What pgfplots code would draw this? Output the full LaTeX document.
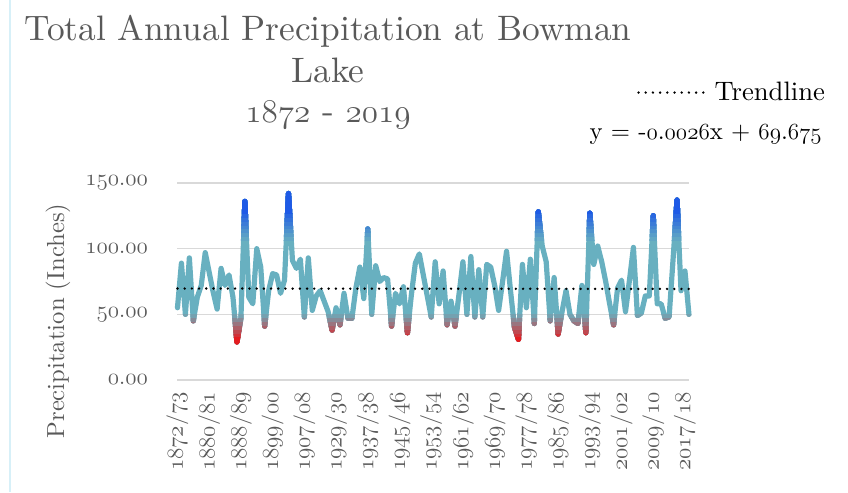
\documentclass[border=0pt]{standalone}
\usepackage{fontspec}
\setmainfont{lmroman10-regular.otf}
\usepackage{pgfplots}
\usepackage{pgfplotstable}
\pgfplotsset{compat=1.18}
\definecolor{teal0}{RGB}{104,176,192}
\definecolor{blueT}{RGB}{30,90,230}
\definecolor{redB}{RGB}{228,28,32}
\definecolor{txtgray}{RGB}{89,89,89}
\definecolor{gridgray}{RGB}{217,217,217}
\definecolor{edgecyan}{RGB}{215,240,248}
\newcommand{\os}[1]{{\usefont{OML}{lmm}{m}{it}#1}}

\pgfplotstableread{
x y
0 55
1 89
2 50
3 93
4 45
5 63
6 72
7 97
8 82
9 67
10 54
11 85
12 72
13 80
14 63
15 29
16 47
17 136
18 63
19 58
20 100
21 86
22 41
23 68
24 81
25 80
26 66
27 76
28 142
29 91
30 85
31 92
32 48
33 93
34 53
35 64
36 68
37 60
38 52
39 38
40 55
41 42
42 66
43 47
44 47
45 70
46 86
47 62
48 115
49 50
50 87
51 75
52 78
53 77
54 41
55 66
56 58
57 71
58 36
59 65
60 89
61 96
62 80
63 64
64 48
65 90
66 58
67 83
68 42
69 60
70 41
71 65
72 90
73 50
74 94
75 48
76 84
77 48
78 88
79 86
80 72
81 53
82 75
83 98
84 68
85 40
86 31
87 88
88 55
89 92
90 43
91 128
92 102
93 90
94 45
95 78
96 35
97 52
98 68
99 50
100 45
101 43
102 72
103 36
104 127
105 88
106 102
107 90
108 75
109 58
110 42
111 70
112 76
113 52
114 76
115 101
116 49
117 51
118 64
119 64
120 125
121 58
122 58
123 47
124 48
125 92
126 137
127 68
128 83
129 50
}\precip

\pgfplotstableread{
x y
0 69.672
129 69.337
}\trend

\newcommand{\band}[3]{%
\begin{scope}
\clip (axis cs:-5,#1) rectangle (axis cs:135,#2);
\addplot[forget plot, line width=3.9pt, line join=round, line cap=round, color=#3] table[x=x,y=y] {\precip};
\end{scope}}

\begin{document}
\begin{tikzpicture}
\path[use as bounding box] (-133.1pt,-84pt) rectangle (502.9pt,285pt);
\draw[edgecyan, line width=1.5pt] (-125.6pt,-84pt) -- (-125.6pt,285pt);
\begin{axis}[
  at={(0pt,0pt)}, anchor=south west,
  scale only axis, width=383.6pt, height=147.75pt,
  xmin=0, xmax=129, ymin=0, ymax=150,
  enlargelimits=false, clip=false,
  axis line style={draw=none}, tick style={draw=none},
  ytick={0,50,100,150},
  yticklabels={{\os{0}.\os{00}},{\os{50}.\os{00}},{\os{100}.\os{00}},{\os{150}.\os{00}}},
  ymajorgrids, grid style={gridgray, line width=1pt},
  xtick={0,8,...,128},
  xticklabels={{\os{1872}/\os{73}},{\os{1880}/\os{81}},{\os{1888}/\os{89}},{\os{1899}/\os{00}},{\os{1907}/\os{08}},{\os{1929}/\os{30}},{\os{1937}/\os{38}},{\os{1945}/\os{46}},{\os{1953}/\os{54}},{\os{1961}/\os{62}},{\os{1969}/\os{70}},{\os{1977}/\os{78}},{\os{1985}/\os{86}},{\os{1993}/\os{94}},{\os{2001}/\os{02}},{\os{2009}/\os{10}},{\os{2017}/\os{18}}},
  xticklabel style={rotate=90, anchor=east, inner sep=0pt, font=\fontsize{16.5}{20}\selectfont, text=txtgray},
  xticklabel shift=9pt,
  yticklabel style={anchor=east, inner sep=0pt, xshift=-22pt, font=\fontsize{16.5}{20}\selectfont, text=txtgray},
  legend style={at={(1.266,1.459)}, anchor=east, draw=none, fill=none, inner sep=0pt, outer sep=0pt,
    font=\fontsize{20}{24}\selectfont, nodes={inner sep=0pt},
    /tikz/every odd column/.style={column sep=5pt}},
  legend cell align=left,
  legend image code/.code={\draw[#1] (0pt,0pt) -- (51pt,0pt);},
]
\addplot[forget plot, line width=3.9pt, line join=round, line cap=round, color=teal0] table[x=x,y=y] {\precip};
\band{106}{200}{blueT!10!teal0}
\band{109}{200}{blueT!22!teal0}
\band{112}{200}{blueT!35!teal0}
\band{115}{200}{blueT!48!teal0}
\band{118}{200}{blueT!60!teal0}
\band{121}{200}{blueT!72!teal0}
\band{124}{200}{blueT!85!teal0}
\band{127}{200}{blueT}
\band{-50}{50}{redB!10!teal0}
\band{-50}{47}{redB!25!teal0}
\band{-50}{44}{redB!40!teal0}
\band{-50}{41}{redB!55!teal0}
\band{-50}{38}{redB!70!teal0}
\band{-50}{35}{redB!85!teal0}
\band{-50}{32}{redB}
\addplot[black, line width=2pt, line cap=round, dash pattern=on 0pt off 5.4pt] table[x=x,y=y] {\trend};
\addlegendentry{Trendline}
\end{axis}
\node[anchor=base, text=txtgray, font=\fontsize{26.5}{32}\selectfont] at (112.9pt,254.6pt) {Total Annual Precipitation at Bowman};
\node[anchor=base, text=txtgray, font=\fontsize{26.5}{32}\selectfont] at (112.9pt,223.4pt) {Lake};
\node[anchor=base, text=txtgray, font=\fontsize{26.5}{32}\selectfont] at (112.9pt,193.2pt) {\os{1872} - \os{2019}};
\node[anchor=base east, text=black, font=\fontsize{18.5}{22}\selectfont, inner sep=0pt] at (483.4pt,180.4pt) {y = -\os{0}.\os{0026}x + \os{69}.\os{675}};
\node[rotate=90, anchor=center, text=txtgray, font=\fontsize{18.5}{22}\selectfont] at (-89.6pt,44.25pt) {Precipitation (Inches)};
\end{tikzpicture}
\end{document}
